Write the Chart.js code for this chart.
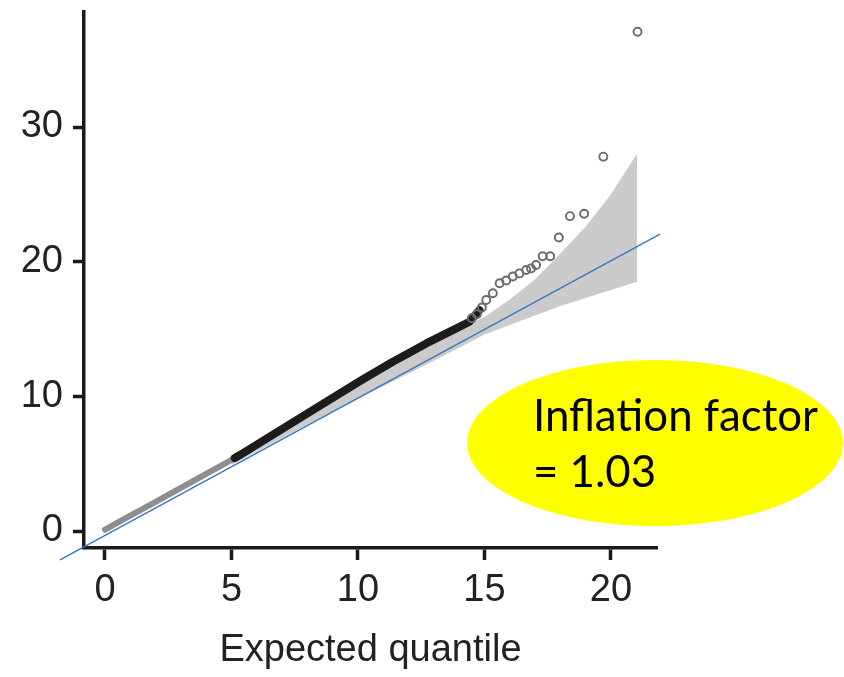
<!DOCTYPE html>
<html>
<head>
<meta charset="utf-8">
<script src="https://cdn.jsdelivr.net/npm/chart.js@4.4.1/dist/chart.umd.min.js"></script>
<style>
  html, body { margin: 0; padding: 0; background: #ffffff; overflow: hidden; }
  #wrap { position: relative; width: 844px; height: 677px; }
  #c { position: absolute; left: 0; top: 0; }
  #bubble { position: absolute; left: 467px; top: 360px; width: 376px; height: 166px;
            border-radius: 50%; background: #ffff00; }
  #btext { position: absolute; left: 533px; top: 386px; font-family: Lato, "Open Sans", sans-serif;
           font-size: 42px; line-height: 56px; color: #000; white-space: nowrap; }
</style>
</head>
<body>
<div id="wrap">
  <canvas id="c" width="844" height="677"></canvas>
  <div id="bubble"></div>
  <div id="btext"><div id="l1">Inflation factor</div><div>= 1.03</div></div>
</div>
<script>
// ---- data ----
const xTickValues = [0, 5, 10, 15, 20];
const yTickValues = [0, 10, 20, 30];
const xTitle = 'Expected quantile';

// dense low part (grey)
const greyX = [0, 1, 2, 3, 4, 5.13];
const greyY = [0.1, 1.14, 2.17, 3.21, 4.25, 5.42];
// dense middle part (black)
const blackX = [5.13, 5.33, 7.57, 10.1, 11.38, 12.7, 13.75, 14.41, 14.8];
const blackY = [5.42, 5.64, 8.24, 11.16, 12.57, 13.93, 14.92, 15.54, 16.4];
// sparse tail (open circles)
const tailX = [14.5, 14.7, 14.9, 15.07, 15.33, 15.6, 15.86, 16.12, 16.38, 16.65, 16.84, 17.04, 17.3, 17.6, 17.94, 18.38, 18.94, 19.7, 21.05];
const tailY = [15.8, 16.1, 16.6, 17.15, 17.65, 18.4, 18.6, 18.9, 19.13, 19.38, 19.5, 19.75, 20.4, 20.4, 21.8, 23.38, 23.56, 27.8, 37.07];
// confidence band
const bandX = [5, 8, 10, 12, 14, 15, 16, 17, 18, 19, 20, 21.04];
const bandUpper = [5.3, 8.4, 10.7, 12.9, 15.0, 15.9, 17.2, 18.7, 20.6, 22.6, 25.0, 28.06];
const bandLower = [4.9, 7.9, 9.8, 11.7, 13.6, 14.6, 15.3, 16.0, 16.7, 17.3, 17.9, 18.5];
// reference line end points
const refX = [-1.78, 21.94];
const refY = [-2.15, 22.05];

const pts = (xs, ys) => xs.map((x, i) => ({ x: x, y: ys[i] }));

const FONT = "'Liberation Sans', Arial, Helvetica, sans-serif";
const TXT = '#222222';

new Chart(document.getElementById('c'), {
  type: 'scatter',
  data: {
    datasets: [
      { label: 'tail', data: pts(tailX, tailY), showLine: false,
        pointRadius: 4, pointBorderWidth: 1.9, pointBorderColor: '#6a6a6a',
        pointBackgroundColor: 'rgba(255,255,255,0)', clip: false },
      { label: 'black', data: pts(blackX, blackY), showLine: true, pointRadius: 0,
        borderColor: '#1c1c1c', borderWidth: 8, borderCapStyle: 'round', borderJoinStyle: 'round' },
      { label: 'grey', data: pts(greyX, greyY), showLine: true, pointRadius: 0,
        borderColor: '#8e8e8e', borderWidth: 6, borderCapStyle: 'round' },
      { label: 'ref', data: pts(refX, refY), showLine: true, pointRadius: 0,
        borderColor: '#3b77c2', borderWidth: 1.5, clip: false },
      { label: 'upper', data: pts(bandX, bandUpper), showLine: true, pointRadius: 0,
        borderWidth: 0, borderColor: 'rgba(0,0,0,0)', backgroundColor: '#cbcbcc', fill: '+1' },
      { label: 'lower', data: pts(bandX, bandLower), showLine: true, pointRadius: 0,
        borderWidth: 0, borderColor: 'rgba(0,0,0,0)' }
    ]
  },
  options: {
    responsive: false,
    animation: false,
    layout: { padding: { top: 12, right: 187, left: 0, bottom: 0 } },
    plugins: { legend: { display: false }, tooltip: { enabled: false } },
    scales: {
      x: {
        type: 'linear', min: -0.83, max: 21.82,
        afterFit: s => { s.height = 129; s.paddingLeft = 0; s.paddingRight = 0; },
        afterBuildTicks: s => { s.ticks = xTickValues.map(v => ({ value: v })); },
        grid: { display: true, drawOnChartArea: false, drawTicks: true, tickLength: 12,
                tickWidth: 3.5, tickColor: '#1a1a1a' },
        border: { display: true, color: '#1a1a1a', width: 3.5 },
        ticks: { font: { family: FONT, size: 38 }, color: TXT, padding: 8, maxRotation: 0 },
        title: { display: true, text: xTitle, font: { family: FONT, size: 38 }, color: TXT,
                 padding: { top: 0, bottom: 4 } }
      },
      y: {
        type: 'linear', min: -1.262, max: 38.54,
        afterFit: s => { s.width = 84; s.paddingTop = 0; s.paddingBottom = 0; },
        afterBuildTicks: s => { s.ticks = yTickValues.map(v => ({ value: v })); },
        grid: { display: true, drawOnChartArea: false, drawTicks: true, tickLength: 11,
                tickWidth: 3.5, tickColor: '#1a1a1a' },
        border: { display: true, color: '#1a1a1a', width: 3.5 },
        ticks: { font: { family: FONT, size: 38 }, color: TXT, padding: 10 }
      }
    }
  }
});

// fit callout text width to the reference (~285px for the first line)
(function () {
  const el = document.getElementById('btext');
  const l1 = document.getElementById('l1');
  const span = document.createElement('span');
  span.textContent = l1.textContent;
  span.style.font = getComputedStyle(el).font;
  span.style.position = 'absolute'; span.style.visibility = 'hidden'; span.style.whiteSpace = 'nowrap';
  document.body.appendChild(span);
  const sw = span.getBoundingClientRect().width;
  document.body.removeChild(span);
  const fs = 42 * 285 / sw;
  el.style.fontSize = fs.toFixed(1) + 'px';
})();
</script>
</body>
</html>
